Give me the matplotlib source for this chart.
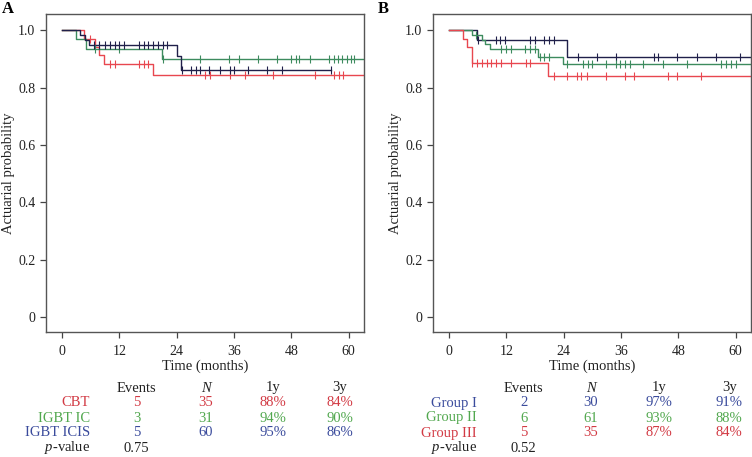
import numpy as np
import matplotlib
matplotlib.use("Agg")
import matplotlib.pyplot as plt

plt.rcParams['font.family'] = ['Liberation Serif', 'DejaVu Serif']
plt.rcParams['mathtext.fontset'] = 'custom'
plt.rcParams['mathtext.it'] = 'Liberation Serif:italic'

# ---- data: panel A -------------------------------------------------------
a_groups = ["CBT", "IGBT IC", "IGBT ICIS"]
a_event_t = [
    [4.7, 7.0, 7.7, 8.9, 19.0],
    [2.9, 5.0, 21.0],
    [3.8, 4.8, 5.7, 24.0, 25.0],
]
a_surv = [
    [0.971, 0.943, 0.913, 0.883, 0.843],
    [0.968, 0.935, 0.900],
    [0.983, 0.967, 0.950, 0.910, 0.863],
]
a_end = [66, 66, 56.3]
a_cens = [
    [5.8, 10.0, 11.0, 16.2, 17.1, 18.1, 30.0, 31.0, 35.1, 38.2, 44.1, 53.0,
     57.0, 57.9, 58.9],
    [6.9, 11.9, 21.2, 28.9, 35.0, 37.0, 41.1, 45.1, 48.0, 48.9, 49.7, 52.0,
     55.9, 56.9, 57.8, 58.7, 59.6, 60.5, 61.2],
    [6.8, 7.8, 9.0, 10.0, 11.0, 12.0, 13.0, 16.2, 17.1, 18.1, 19.1, 20.2,
     21.2, 22.0, 25.1, 26.9, 28.0, 28.9, 30.8, 33.1, 35.1, 36.0, 39.0, 43.0,
     46.1, 56.3],
]
a_events = ["5", "3", "5"]
a_n = ["35", "31", "60"]
a_1y = ["88%", "94%", "95%"]
a_3y = ["84%", "90%", "86%"]
a_p = "0.75"

# ---- data: panel B -------------------------------------------------------
b_groups = ["Group I", "Group II", "Group III"]
b_event_t = [
    [5.85, 24.7],
    [4.8, 6.9, 7.6, 8.6, 18.7, 23.8],
    [2.9, 3.8, 4.8, 20.8],
]
b_surv = [
    [0.967, 0.907],
    [0.984, 0.967, 0.951, 0.934, 0.907, 0.882],
    [0.971, 0.943, 0.886, 0.840],
]
b_end = [66, 66, 66]
b_cens = [
    [6.0, 9.8, 10.7, 11.7, 17.0, 18.0, 19.9, 21.0, 22.0, 26.9, 30.9, 34.9,
     42.9, 43.8, 47.8, 51.9, 55.8, 60.9],
    [5.7, 10.9, 11.9, 12.9, 16.0, 17.0, 18.05, 19.1, 19.9, 21.0, 24.8, 28.1,
     29.0, 30.0, 32.8, 34.9, 35.8, 36.9, 37.8, 40.5, 44.8, 49.9, 56.9, 57.9,
     59.0, 60.0],
    [4.9, 5.85, 6.9, 7.9, 8.9, 9.8, 10.9, 13.0, 16.1, 17.0, 21.9, 24.8, 26.8,
     27.7, 28.8, 32.8, 36.9, 38.7, 45.9, 47.8, 52.7],
]
b_events = ["2", "6", "5"]
b_n = ["30", "61", "35"]
b_1y = ["97%", "93%", "87%"]
b_3y = ["91%", "88%", "84%"]
b_p = "0.52"

# colours
RED, GREEN, NAVY = "#e8474f", "#3d8b5e", "#20204a"
T_RED, T_GREEN, T_BLUE = "#d23a44", "#52a84f", "#3a4b9c"
a_curve_col = [RED, GREEN, NAVY]
a_text_col = [T_RED, T_GREEN, T_BLUE]
b_curve_col = [NAVY, GREEN, RED]
b_text_col = [T_BLUE, T_GREEN, T_RED]

W, H = 752, 457
fig = plt.figure(figsize=(W / 100, H / 100), dpi=100)


def px(x, y):
    return x / W, 1 - y / H


def km_panel(rect, event_t, surv, ends, cens, cols):
    ax = fig.add_axes(rect)
    for et, sv, end, cs, c in zip(event_t, surv, ends, cens, cols):
        t = np.concatenate([[0], et, [end]])
        s = np.concatenate([[1.0], sv, [sv[-1]]])
        ax.step(t, s, where="post", color=c, lw=1.0, zorder=2)
        # censoring ticks sit on the curve
        idx = np.searchsorted(t, cs, side="right") - 1
        ax.plot(cs, s[idx], ls="none", marker="|", ms=5.5, mew=0.8,
                color=c, zorder=3)
    ax.set_xlim(-3.4, 63.2)
    ax.set_ylim(-0.053, 1.057)
    ax.set_xticks([0, 12, 24, 36, 48, 60])
    ax.set_yticks([0, 0.2, 0.4, 0.6, 0.8, 1.0])
    ax.set_yticklabels(["0", "0.2", "0.4", "0.6", "0.8", "1.0"])
    for sp in ax.spines.values():
        sp.set_color("#555555")
        sp.set_linewidth(1.0)
    ax.tick_params(direction="out", length=4.5, width=0.9, color="#444444",
                   labelsize=10, labelcolor="#222222")
    ax.tick_params(axis="x", pad=5)
    ax.tick_params(axis="y", pad=3)
    ax.set_xlabel("Time (months)", fontsize=10.5, color="#222222", labelpad=1)
    ax.set_ylabel("Actuarial probability", fontsize=10.5, color="#222222",
                  labelpad=2)
    return ax


def table(x_lab, x_cols, groups, events, n, y1, y3, cols, pval):
    fs = 10.5
    ys = [388, 403, 418, 433, 448]
    heads = ["Events", "N", "1y", "3y"]
    for xc, hd in zip(x_cols, heads):
        fig.text(*px(xc, ys[0]), hd, ha="center", va="center", fontsize=fs,
                 color="#222222", style="italic" if hd == "N" else "normal")
    for i, g in enumerate(groups):
        y = ys[i + 1]
        fig.text(*px(x_lab, y), g, ha="right", va="center", fontsize=fs,
                 color=cols[i])
        for xc, v in zip(x_cols, [events[i], n[i], y1[i], y3[i]]):
            fig.text(*px(xc, y), v, ha="center", va="center", fontsize=fs,
                     color=cols[i])
    fig.text(*px(x_lab, ys[4]), r"$\mathit{p}$-value", ha="right",
             va="center", fontsize=fs, color="#222222")
    fig.text(*px(x_cols[0], ys[4]), pval, ha="center", va="center",
             fontsize=fs, color="#222222")


axA = km_panel([45.7 / W, 1 - 332 / H, 318.3 / W, 318 / H],
               a_event_t, a_surv, a_end, a_cens, a_curve_col)
axB = km_panel([432.7 / W, 1 - 332 / H, 318.3 / W, 318 / H],
               b_event_t, b_surv, b_end, b_cens, b_curve_col)

fig.text(*px(2, 9), "A", fontsize=12, fontweight="bold", va="center")
fig.text(*px(378, 9), "B", fontsize=12, fontweight="bold", va="center")

table(90, [136.7, 206, 273.3, 340], a_groups, a_events, a_n, a_1y, a_3y,
      a_text_col, a_p)
table(477, [523.7, 591, 659.3, 729.3], b_groups, b_events, b_n, b_1y, b_3y,
      b_text_col, b_p)

fig.savefig("out.png", dpi=100)
